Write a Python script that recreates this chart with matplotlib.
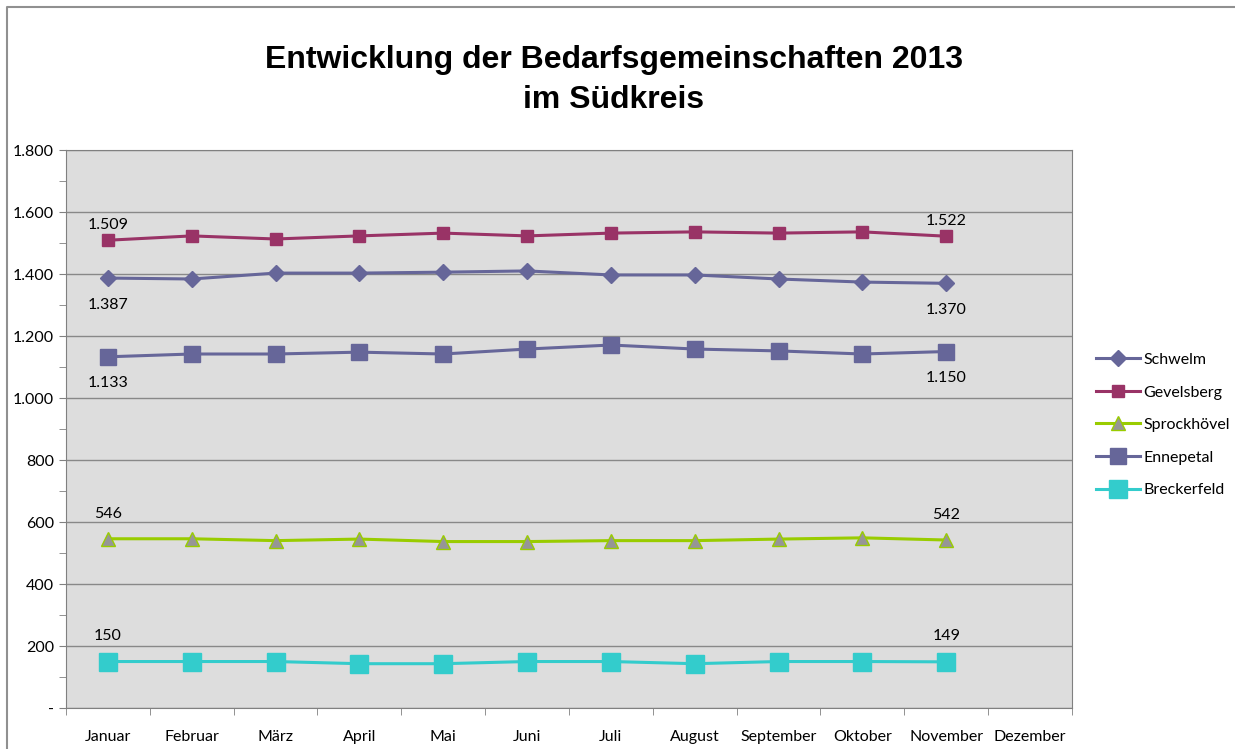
import numpy as np
import matplotlib.pyplot as plt
from matplotlib.ticker import FixedLocator, FuncFormatter
from matplotlib.lines import Line2D

months = ['Januar', 'Februar', 'März', 'April', 'Mai', 'Juni', 'Juli',
          'August', 'September', 'Oktober', 'November', 'Dezember']

schwelm = [1387, 1384, 1403, 1403, 1406, 1410, 1397, 1397, 1384, 1374, 1370]
gevelsberg = [1509, 1523, 1513, 1523, 1532, 1523, 1532, 1536, 1532, 1536, 1522]
sprockhoevel = [546, 546, 540, 545, 537, 537, 540, 540, 545, 549, 542]
ennepetal = [1133, 1142, 1142, 1148, 1142, 1158, 1171, 1158, 1152, 1142, 1150]
breckerfeld = [150, 150, 150, 143, 143, 150, 150, 143, 150, 150, 149]

plt.rcParams['font.family'] = ['Lato', 'DejaVu Sans']

fig = plt.figure(figsize=(12.35, 7.49), dpi=100)
# Rahmen des Diagrammbereichs (nur links und oben sichtbar)
fig.add_artist(Line2D([0.0053, 0.0053, 1.0], [0.0, 0.9907, 0.9907], transform=fig.transFigure,
                      color='#909090', linewidth=1.5))
ax = fig.add_axes([0.0534, 0.0547, 0.8146, 0.745])
ax.set_facecolor('#DDDDDD')

x = np.arange(len(schwelm))
series = [
    ('Schwelm', schwelm, dict(color='#666699', marker='D', markersize=8,
                              markerfacecolor='#666699', markeredgecolor='#666699')),
    ('Gevelsberg', gevelsberg, dict(color='#993366', marker='s', markersize=9,
                                    markerfacecolor='#993366', markeredgecolor='#993366')),
    ('Sprockhövel', sprockhoevel, dict(color='#99CC00', marker='^', markersize=10,
                                       markerfacecolor='#969696', markeredgecolor='#99CC00')),
    ('Ennepetal', ennepetal, dict(color='#666699', marker='s', markersize=12,
                                  markerfacecolor='#666699', markeredgecolor='#666699')),
    ('Breckerfeld', breckerfeld, dict(color='#33CCCC', marker='s', markersize=13,
                                      markerfacecolor='#33CCCC', markeredgecolor='#33CCCC')),
]
lines = []
for name, vals, st in series:
    ln, = ax.plot(x, vals, linewidth=2.2, label=name, zorder=3, **st)
    lines.append(ln)

# Datenbeschriftungen (erster und letzter Monat)
offsets = {'Schwelm': -19.5, 'Gevelsberg': 11, 'Sprockhövel': 18,
           'Ennepetal': -19, 'Breckerfeld': 18.5}
for name, vals, st in series:
    for i in (0, len(vals) - 1):
        lbl = f'{vals[i]:,}'.replace(',', '.')
        ax.annotate(lbl, (x[i], vals[i]), textcoords='offset points',
                    xytext=(0, offsets[name]), ha='center', va='center',
                    fontsize=11.5, color='black', zorder=4)

ax.set_xlim(-0.5, 11.5)
ax.set_ylim(0, 1800)
ax.yaxis.set_major_locator(FixedLocator(np.arange(0, 1801, 200)))
ax.yaxis.set_minor_locator(FixedLocator(np.arange(100, 1800, 200)))
ax.yaxis.set_major_formatter(FuncFormatter(
    lambda v, p: '-' if v == 0 else f'{int(v):,}'.replace(',', '.')))
ax.grid(axis='y', which='major', color='#888888', linewidth=1, zorder=1)
ax.set_axisbelow(True)

ax.set_xticks(np.arange(12))
ax.set_xticklabels(months)
ax.xaxis.set_minor_locator(FixedLocator(np.arange(-0.5, 12, 1)))
ax.tick_params(axis='x', which='major', length=0, pad=16, labelsize=11.5)
ax.tick_params(axis='x', which='minor', length=5, color='#808080', direction='out')
ax.tick_params(axis='y', which='both', length=5, color='#808080', direction='out', labelsize=11.5)
for s in ax.spines.values():
    s.set_color('#808080')

title_font = ['Liberation Sans', 'DejaVu Sans']
fig.text(0.497, 0.920, 'Entwicklung der Bedarfsgemeinschaften 2013',
         ha='center', va='center', fontsize=23, fontweight='bold', family=title_font)
fig.text(0.497, 0.8665, 'im Südkreis',
         ha='center', va='center', fontsize=23, fontweight='bold', family=title_font)

fig.legend(handles=lines, loc='center left', bbox_to_anchor=(0.882, 0.4326),
           frameon=False, fontsize=11.5, handlelength=2.8, labelspacing=1.15,
           handletextpad=0.2, borderaxespad=0)

fig.savefig('out.png', dpi=100)
